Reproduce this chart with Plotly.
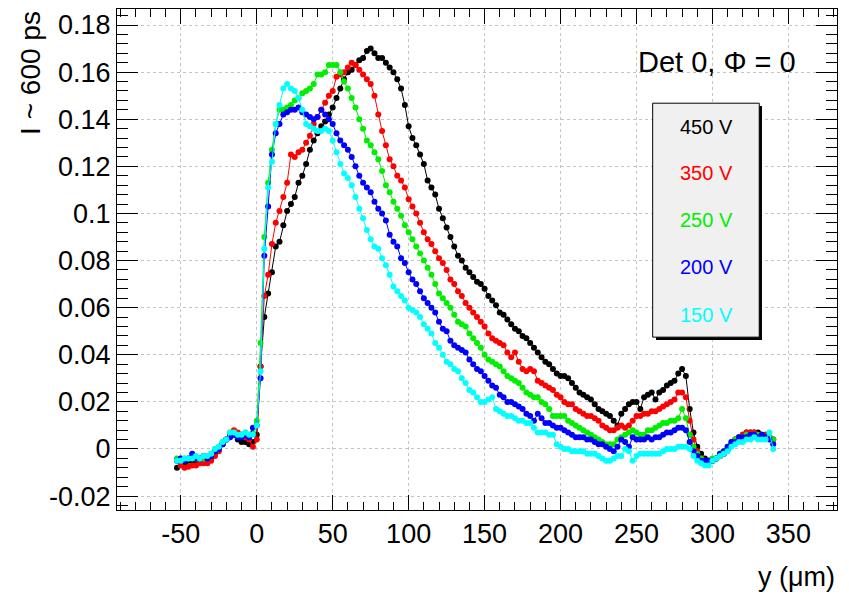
import plotly.graph_objects as go

# scan positions (um), 2.5 um steps from -52.5 to 340
Y_POS = [round(-52.5 + 2.5 * i, 1) for i in range(158)]

V450 = [-0.008, -0.006, -0.006, -0.005, -0.005, -0.005, -0.005, -0.005, -0.005, -0.004,
        -0.002, 0.000, 0.002, 0.004, 0.006, 0.006, 0.004, 0.003, 0.003, 0.002,
        0.003, 0.006, 0.035, 0.056, 0.066, 0.075, 0.086, 0.088, 0.095, 0.101,
        0.104, 0.107, 0.113, 0.116, 0.121, 0.127, 0.131, 0.134, 0.137, 0.139,
        0.142, 0.145, 0.149, 0.153, 0.157, 0.160, 0.161, 0.163, 0.165, 0.166,
        0.169, 0.170, 0.168, 0.166, 0.166, 0.164, 0.162, 0.160, 0.157, 0.153,
        0.146, 0.137, 0.132, 0.129, 0.125, 0.121, 0.114, 0.111, 0.108, 0.102,
        0.098, 0.094, 0.090, 0.086, 0.082, 0.080, 0.077, 0.075, 0.073, 0.071,
        0.070, 0.068, 0.065, 0.063, 0.061, 0.058, 0.057, 0.055, 0.053, 0.051,
        0.050, 0.048, 0.047, 0.045, 0.043, 0.041, 0.039, 0.037, 0.036, 0.034,
        0.032, 0.031, 0.031, 0.030, 0.028, 0.026, 0.024, 0.023, 0.022, 0.021,
        0.019, 0.017, 0.016, 0.015, 0.014, 0.012, 0.010, 0.015, 0.017, 0.019,
        0.020, 0.020, 0.017, 0.022, 0.023, 0.024, 0.021, 0.024, 0.025, 0.027,
        0.028, 0.029, 0.032, 0.034, 0.031, 0.017, 0.007, 0.001, -0.002, -0.004,
        -0.005, -0.005, -0.004, -0.003, -0.002, 0.000, 0.002, 0.004, 0.005, 0.006,
        0.007, 0.007, 0.007, 0.007, 0.006, 0.006, 0.005, 0.004]

V350 = [None, -0.007, -0.008, -0.0075, -0.007, -0.007, -0.006, -0.006, -0.006, -0.005,
        -0.003, -0.001, 0.002, 0.004, 0.006, 0.008, 0.007, 0.006, 0.005, 0.004,
        0.001, 0.004, 0.035, 0.065, 0.074, 0.087, 0.096, 0.101, 0.107, 0.113,
        0.125, 0.124, 0.126, 0.127, 0.130, 0.133, 0.138, 0.141, 0.144, 0.147,
        0.150, 0.152, 0.158, 0.159, 0.160, 0.162, 0.164, 0.163, 0.161, 0.159,
        0.157, 0.155, 0.150, 0.142, 0.135, 0.129, 0.123, 0.120, 0.116, 0.114,
        0.111, 0.106, 0.103, 0.100, 0.096, 0.092, 0.089, 0.087, 0.084, 0.081,
        0.079, 0.076, 0.072, 0.070, 0.067, 0.065, 0.062, 0.060, 0.058, 0.056,
        0.054, 0.052, 0.049, 0.047, 0.046, 0.045, 0.044, 0.041, 0.039, 0.041,
        0.037, 0.034, 0.033, 0.034, 0.033, 0.029, 0.028, 0.027, 0.026, 0.025,
        0.023, 0.022, 0.020, 0.019, 0.019, 0.017, 0.016, 0.015, 0.014, 0.014,
        0.013, 0.012, 0.010, 0.009, 0.008, 0.008, 0.009, 0.010, 0.009, 0.010,
        0.012, 0.014, 0.014, 0.015, 0.015, 0.016, 0.016, 0.017, 0.018, 0.019,
        0.020, 0.021, 0.024, 0.024, 0.022, 0.012, 0.004, -0.001, -0.004, -0.005,
        -0.005, -0.005, -0.004, -0.003, -0.002, 0.000, 0.002, 0.004, 0.005, 0.006,
        0.007, 0.007, 0.007, 0.006, 0.006, 0.006, 0.005, 0.004]

V250 = [-0.004, -0.004, -0.004, -0.004, -0.003, -0.004, -0.004, -0.004, -0.003, -0.002,
        0.000, 0.001, 0.003, 0.004, 0.007, 0.007, 0.006, 0.006, 0.007, 0.006,
        0.007, 0.012, 0.045, 0.090, 0.113, 0.127, 0.138, 0.144, 0.144, 0.145,
        0.146, 0.148, 0.149, 0.151, 0.152, 0.153, 0.155, 0.159, 0.159, 0.160,
        0.163, 0.163, 0.163, 0.160, 0.156, 0.153, 0.149, 0.145, 0.140, 0.136,
        0.131, 0.129, 0.126, 0.123, 0.118, 0.112, 0.109, 0.105, 0.102, 0.099,
        0.095, 0.092, 0.089, 0.086, 0.083, 0.080, 0.077, 0.074, 0.070, 0.066,
        0.064, 0.062, 0.060, 0.057, 0.054, 0.053, 0.052, 0.049, 0.047, 0.045,
        0.043, 0.040, 0.038, 0.037, 0.036, 0.035, 0.033, 0.031, 0.030, 0.029,
        0.028, 0.026, 0.024, 0.023, 0.022, 0.022, 0.020, 0.019, 0.017, 0.014,
        0.014, 0.014, 0.014, 0.012, 0.011, 0.010, 0.009, 0.008, 0.007, 0.006,
        0.005, 0.004, 0.003, 0.002, 0.002, 0.002, 0.004, 0.005, 0.006, 0.007,
        0.008, 0.007, 0.006, 0.006, 0.008, 0.008, 0.009, 0.010, 0.011, 0.011,
        0.012, 0.012, 0.013, 0.017, 0.013, 0.006, 0.001, -0.002, -0.004, -0.005,
        -0.005, -0.004, -0.004, -0.002, -0.001, 0.001, 0.003, 0.004, 0.005, 0.005,
        0.006, 0.006, 0.006, 0.006, 0.005, 0.005, 0.005, 0.004]

V200 = [-0.005, -0.004, -0.005, -0.004, -0.002, -0.004, -0.004, -0.003, -0.004, -0.003,
        -0.001, 0.000, 0.002, 0.004, 0.005, 0.006, 0.005, 0.005, 0.006, 0.005,
        0.009, 0.010, 0.030, 0.082, 0.103, 0.125, 0.134, 0.138, 0.142, 0.143,
        0.144, 0.144, 0.145, 0.143, 0.142, 0.141, 0.140, 0.141, 0.144, 0.142,
        0.140, 0.138, 0.134, 0.131, 0.129, 0.127, 0.124, 0.120, 0.116, 0.113,
        0.111, 0.109, 0.105, 0.102, 0.100, 0.097, 0.091, 0.088, 0.086, 0.081,
        0.079, 0.075, 0.072, 0.070, 0.067, 0.064, 0.062, 0.060, 0.058, 0.054,
        0.051, 0.050, 0.046, 0.044, 0.043, 0.042, 0.041, 0.038, 0.036, 0.034,
        0.033, 0.031, 0.029, 0.027, 0.026, 0.023, 0.022, 0.020, 0.020, 0.019,
        0.018, 0.017, 0.015, 0.014, 0.012, 0.015, 0.013, 0.011, 0.011, 0.010,
        0.009, 0.009, 0.008, 0.007, 0.006, 0.005, 0.005, 0.005, 0.004, 0.004,
        0.003, 0.002, 0.002, 0.001, 0.000, -0.001, 0.001, 0.004, 0.003, 0.001,
        0.005, 0.004, 0.004, 0.004, 0.005, 0.004, 0.005, 0.005, 0.006, 0.007,
        0.007, 0.008, 0.009, 0.009, 0.008, 0.003, -0.001, -0.003, -0.005, -0.005,
        -0.005, -0.005, -0.004, -0.002, -0.001, 0.001, 0.003, 0.003, 0.005, 0.005,
        0.005, 0.006, 0.006, 0.005, 0.006, 0.005, 0.004, 0.002]

V150 = [-0.005, -0.005, -0.004, -0.004, -0.004, -0.003, -0.004, -0.003, -0.003, -0.002,
        0.000, 0.001, 0.003, 0.004, 0.007, 0.007, 0.006, 0.006, 0.007, 0.006,
        0.006, 0.010, 0.033, 0.085, 0.111, 0.122, 0.138, 0.146, 0.153, 0.155,
        0.153, 0.152, 0.149, 0.144, 0.138, 0.137, 0.136, 0.135, 0.135, 0.136,
        0.135, 0.131, 0.126, 0.121, 0.117, 0.115, 0.112, 0.107, 0.102, 0.098,
        0.093, 0.089, 0.086, 0.085, 0.081, 0.078, 0.074, 0.069, 0.067, 0.065,
        0.063, 0.060, 0.059, 0.058, 0.056, 0.053, 0.051, 0.049, 0.045, 0.043,
        0.040, 0.037, 0.036, 0.034, 0.033, 0.030, 0.028, 0.025, 0.024, 0.022,
        0.020, 0.020, 0.021, 0.022, 0.017, 0.016, 0.015, 0.014, 0.014, 0.013,
        0.012, 0.012, 0.011, 0.011, 0.009, 0.007, 0.007, 0.007, 0.006, 0.006,
        0.002, 0.001, 0.000, 0.000, -0.001, -0.001, -0.001, -0.001, -0.002, -0.002,
        -0.002, -0.003, -0.004, -0.005, -0.005, -0.004, -0.003, -0.003, 0.000, -0.001,
        -0.005, -0.003, -0.002, -0.002, -0.002, -0.002, -0.002, -0.002, -0.001, 0.000,
        0.000, 0.000, 0.001, 0.001, 0.001, 0.000, -0.003, -0.005, -0.006, -0.007,
        -0.007, -0.005, -0.004, -0.003, -0.002, -0.001, 0.001, 0.002, 0.003, 0.003,
        0.004, 0.004, 0.005, 0.004, 0.004, 0.004, 0.007, 0.000]

SERIES = [("450 V", V450, "#000000"),
          ("350 V", V350, "#ff0000"),
          ("250 V", V250, "#00ee00"),
          ("200 V", V200, "#0000ff"),
          ("150 V", V150, "#00ffff")]

X_TICKS = [-50, 0, 50, 100, 150, 200, 250, 300, 350]
X_TICK_TEXT = ["-50", "0", "50", "100", "150", "200", "250", "300", "350"]
Y_TICKS = [-0.02, 0, 0.02, 0.04, 0.06, 0.08, 0.1, 0.12, 0.14, 0.16, 0.18]
Y_TICK_TEXT = ["-0.02", "0", "0.02", "0.04", "0.06", "0.08", "0.1", "0.12", "0.14", "0.16", "0.18"]

FONT = "Liberation Sans, Arial, Helvetica, sans-serif"

fig = go.Figure()
for name, vals, col in SERIES:
    fig.add_trace(go.Scatter(
        x=Y_POS, y=vals, name=name, mode="lines+markers",
        line=dict(color=col, width=1),
        marker=dict(color=col, size=6),
        connectgaps=False, showlegend=False))

grid = dict(showgrid=True, gridcolor="#c4c4c4", griddash="dot", gridwidth=1)

fig.update_layout(
    width=849, height=596,
    margin=dict(l=117, r=12, t=9, b=86),
    paper_bgcolor="white", plot_bgcolor="white",
    font=dict(family=FONT, color="black"),
    showlegend=False,
    xaxis=dict(range=[-92, 382], tickmode="array", tickvals=X_TICKS, ticktext=X_TICK_TEXT,
               ticks="inside", ticklen=15, tickcolor="black", tickwidth=1,
               showline=True, linecolor="black", linewidth=1, mirror="ticks",
               zeroline=False, tickfont=dict(size=27, family=FONT),
               minor=dict(tickmode="linear", tick0=0, dtick=10, ticks="inside",
                          ticklen=8, tickcolor="black", showgrid=False),
               **grid),
    yaxis=dict(range=[-0.0259, 0.1868], tickmode="array", tickvals=Y_TICKS, ticktext=Y_TICK_TEXT,
               ticks="inside", ticklen=21, tickcolor="black", tickwidth=1,
               showline=True, linecolor="black", linewidth=1, mirror="ticks",
               zeroline=False, tickfont=dict(size=27, family=FONT),
               minor=dict(tickmode="linear", tick0=0, dtick=0.004, ticks="inside",
                          ticklen=11, tickcolor="black", showgrid=False),
               **grid),
)

# axis titles (ROOT style: at the end of the axes)
fig.add_annotation(text="I ~ 600 ps", xref="paper", yref="paper", x=-0.121, y=1.0,
                   xanchor="center", yanchor="top", textangle=-90, showarrow=False,
                   font=dict(size=28, family=FONT, color="black"))
fig.add_annotation(text="y (\u03bcm)", xref="paper", yref="paper", x=1.0, y=-0.133,
                   xanchor="right", yanchor="middle", showarrow=False,
                   font=dict(size=27, family=FONT, color="black"))
fig.add_annotation(text="Det 0, \u03a6 = 0", xref="paper", yref="paper", x=0.8333, y=0.894,
                   xanchor="center", yanchor="middle", showarrow=False,
                   font=dict(size=29, family=FONT, color="black"))

# legend box with shadow
fig.add_shape(type="rect", xref="paper", yref="paper", x0=0.7486, x1=0.8958, y0=0.3393, y1=0.8064,
              fillcolor="black", line=dict(width=0), layer="above")
fig.add_shape(type="rect", xref="paper", yref="paper", x0=0.744, x1=0.892, y0=0.345, y1=0.812,
              fillcolor="#f0f0f0", line=dict(color="black", width=1), layer="above")
LEG_Y = [0.7645, 0.6727, 0.5788, 0.485, 0.3892]
for (name, _, col), ly in zip(SERIES, LEG_Y):
    fig.add_annotation(text=name, xref="paper", yref="paper", x=0.8194, y=ly,
                       xanchor="center", yanchor="middle", showarrow=False,
                       font=dict(size=20, family=FONT, color=col))

fig.write_html("out.html")
